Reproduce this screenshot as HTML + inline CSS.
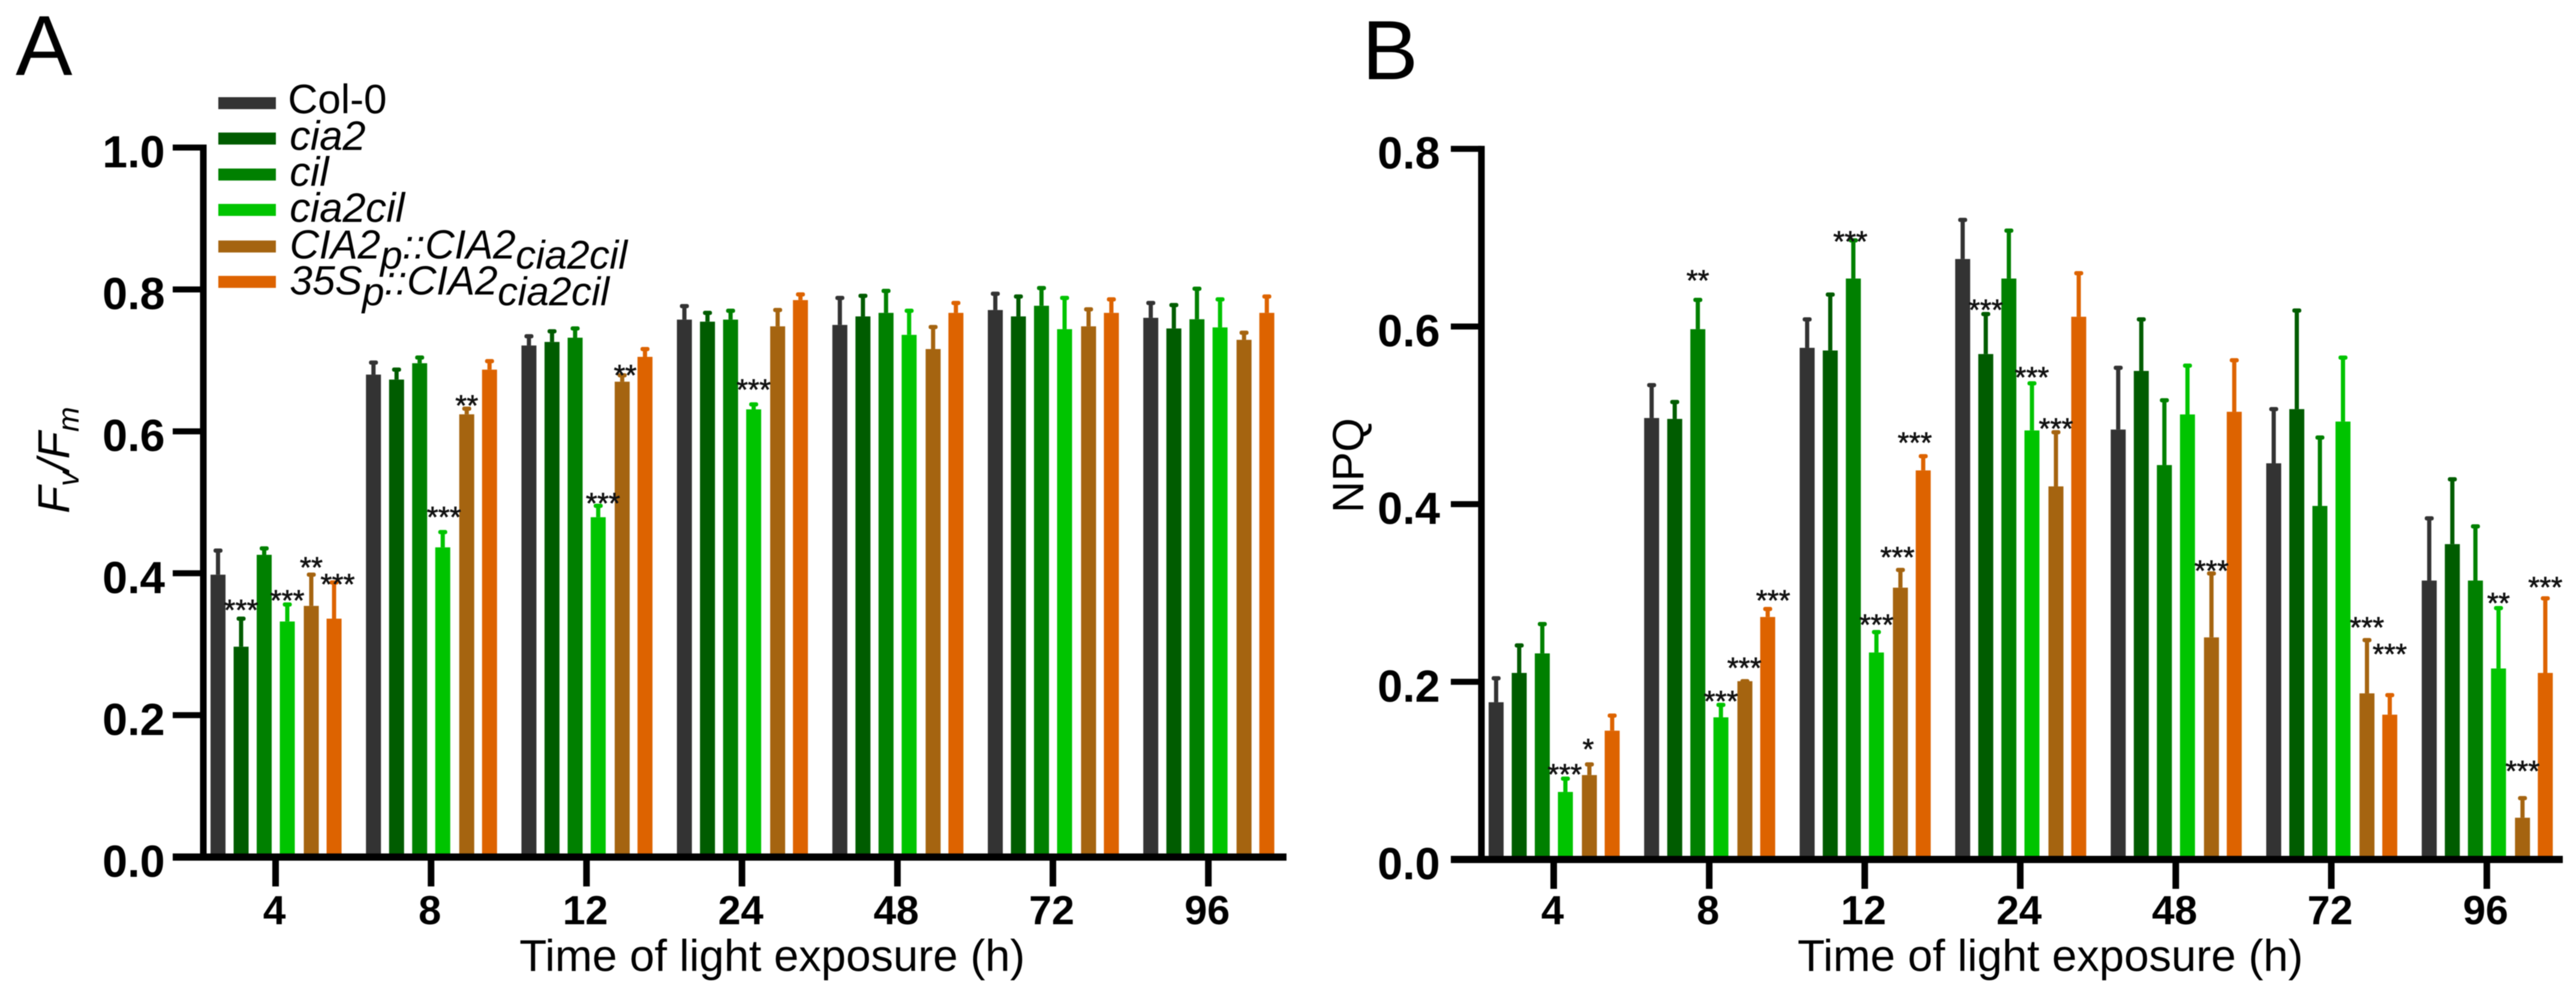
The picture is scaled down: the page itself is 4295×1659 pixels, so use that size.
<!DOCTYPE html>
<html>
<head>
<meta charset="utf-8">
<title>Fv/Fm and NPQ over time of light exposure</title>
<style>
html,body{margin:0;padding:0;background:#fff;}
body{width:4295px;height:1659px;overflow:hidden;}
svg{display:block;font-family:"Liberation Sans",Arial,sans-serif;fill:#000;filter:blur(0.8px);}
</style>
</head>
<body>
<svg id="figure" xmlns="http://www.w3.org/2000/svg" width="4295" height="1659" viewBox="0 0 4295 1659">
  <rect x="0" y="0" width="4295" height="1659" fill="#ffffff"/>
  <text x="26" y="125" font-size="142">A</text>
  <text x="2271" y="132" font-size="140">B</text>

  <text transform="translate(115,856) rotate(-90)" font-size="74" font-style="italic">F<tspan font-size="50" dy="16">v</tspan><tspan font-size="74" dy="-16">/F</tspan><tspan font-size="50" dy="16">m</tspan></text>
  <text transform="translate(2273,855) rotate(-90)" font-size="73">NPQ</text>
  <text x="866" y="1619" font-size="74" textLength="843" lengthAdjust="spacingAndGlyphs">Time of light exposure (h)</text>
  <text x="2997" y="1619" font-size="74" textLength="843" lengthAdjust="spacingAndGlyphs">Time of light exposure (h)</text>

  <g id="panel-a"></g>
  <g id="panel-b"></g>

  <g>
    <g>
      <rect x="364" y="162" width="96" height="20" fill="#333333"/>
      <text x="480" y="189" font-size="69">Col-0</text>
    </g>
    <g>
      <rect x="364" y="221" width="96" height="20" fill="#005c00"/>
      <text x="483" y="250" font-size="69" font-style="italic">cia2</text>
    </g>
    <g>
      <rect x="364" y="281" width="96" height="20" fill="#008000"/>
      <text x="483" y="310" font-size="69" font-style="italic">cil</text>
    </g>
    <g>
      <rect x="364" y="340" width="96" height="20" fill="#00c400"/>
      <text x="483" y="370" font-size="69" font-style="italic">cia2cil</text>
    </g>
    <g>
      <rect x="364" y="401" width="96" height="20" fill="#a56410"/>
      <text x="483" y="431" font-size="68" font-style="italic">CIA2<tspan font-size="66" dy="17">p</tspan><tspan font-size="68" dy="-17">::CIA2</tspan><tspan font-size="67" dy="17">cia2cil</tspan></text>
    </g>
    <g>
      <rect x="364" y="460" width="96" height="20" fill="#dd6300"/>
      <text x="483" y="491" font-size="68" font-style="italic">35S<tspan font-size="66" dy="18">p</tspan><tspan font-size="68" dy="-18">::CIA2</tspan><tspan font-size="67" dy="18">cia2cil</tspan></text>
    </g>
  </g>
</svg>
<script>
// ---- shared data ----
const categories = ['4', '8', '12', '24', '48', '72', '96'];
const seriesNames = ['col-0', 'cia2', 'cil', 'cia2cil', 'cia2p-complement', '35sp-overexpression'];
const seriesColors = ['#333333', '#005c00', '#008000', '#00c400', '#a56410', '#dd6300'];

// ---- panel A: Fv/Fm ----
const yTicksA = ['0.0', '0.2', '0.4', '0.6', '0.8', '1.0'];
const meanA_col0 = [0.398, 0.680, 0.721, 0.7575, 0.750, 0.771, 0.760];
const meanA_cia2 = [0.2965, 0.673, 0.726, 0.7546, 0.762, 0.762, 0.745];
const meanA_cil = [0.426, 0.696, 0.732, 0.7575, 0.767, 0.777, 0.758];
const meanA_cia2cil = [0.332, 0.4365, 0.479, 0.631, 0.736, 0.744, 0.7465];
const meanA_cia2p = [0.354, 0.624, 0.670, 0.748, 0.716, 0.748, 0.729];
const meanA_35s = [0.336, 0.687, 0.705, 0.785, 0.767, 0.767, 0.767];
const upperA_col0 = [0.432, 0.697, 0.734, 0.7765, 0.788, 0.794, 0.781];
const upperA_cia2 = [0.336, 0.687, 0.741, 0.767, 0.791, 0.790, 0.778];
const upperA_cil = [0.435, 0.704, 0.745, 0.770, 0.798, 0.802, 0.801];
const upperA_cia2cil = [0.356, 0.458, 0.495, 0.638, 0.770, 0.788, 0.786];
const upperA_cia2p = [0.398, 0.632, 0.679, 0.771, 0.747, 0.772, 0.739];
const upperA_35s = [0.387, 0.699, 0.716, 0.793, 0.781, 0.786, 0.790];
const sigGroupA = [0, 0, 0, 0, 1, 1, 2, 2, 3];
const sigSeriesA = [1, 3, 4, 5, 3, 4, 3, 4, 3];
const sigTextA = ['***', '***', '**', '***', '***', '**', '***', '**', '***'];

// ---- panel B: NPQ ----
const yTicksB = ['0.0', '0.2', '0.4', '0.6', '0.8'];
const meanB_col0 = [0.177, 0.497, 0.576, 0.676, 0.484, 0.446, 0.314];
const meanB_cia2 = [0.210, 0.496, 0.573, 0.569, 0.550, 0.507, 0.355];
const meanB_cil = [0.232, 0.597, 0.654, 0.654, 0.444, 0.398, 0.314];
const meanB_cia2cil = [0.076, 0.160, 0.233, 0.483, 0.501, 0.493, 0.215];
const meanB_cia2p = [0.095, 0.2007, 0.306, 0.420, 0.250, 0.187, 0.047];
const meanB_35s = [0.145, 0.273, 0.438, 0.611, 0.504, 0.163, 0.210];
const upperB_col0 = [0.204, 0.534, 0.608, 0.720, 0.5535, 0.507, 0.384];
const upperB_cia2 = [0.241, 0.515, 0.636, 0.614, 0.608, 0.618, 0.428];
const upperB_cil = [0.265, 0.630, 0.697, 0.708, 0.517, 0.475, 0.375];
const upperB_cia2cil = [0.091, 0.174, 0.256, 0.536, 0.556, 0.565, 0.283];
const upperB_cia2p = [0.107, 0.2007, 0.326, 0.481, 0.322, 0.247, 0.069];
const upperB_35s = [0.162, 0.282, 0.454, 0.660, 0.562, 0.185, 0.294];
const sigGroupB = [0, 0, 1, 1, 1, 1, 2, 2, 2, 2, 3, 3, 3, 4, 5, 5, 6, 6, 6];
const sigSeriesB = [3, 4, 2, 3, 4, 5, 2, 3, 4, 5, 1, 3, 4, 4, 4, 5, 3, 4, 5];
const sigTextB = ['***', '*', '**', '***', '***', '***', '***', '***', '***', '***', '***', '***', '***', '***', '***', '***', '**', '***', '***'];

// ---- layout (not data) ----
const barOffsets = [-96, -57.5, -19, 19.5, 59.5, 97.5];
const barWidth = 25;
const sigNudgeXA = [0, 0, 0, 6, 2, 0, 8, 5, 0];
const sigGapA = [25, 17.5, 23, 7.7, 35.6, 16, 15, 11, 35.5];
const sigNudgeXB = [-1, -2, 0, 0, -1, 9, -5, 0, -5, -14, 0, 0, 0, 0, 0, 0, 0, 0, 0];
const sigGapB = [18, 36, 43, 17, 33, 25, 9, 23, 32, 33, 18, 21, 16.5, 15, 32, 79, 19, 56, 29];

const panelA = {
  key: 'a', root: document.getElementById('panel-a'),
  x0: 459.5, xStep: 259.2, y0: 1429, yPerUnit: 1183,
  axisX: 339, axisLeft: 288, axisRight: 2145, tickBottom: 1478, labelRight: 275, maxY: 1.0,
  ticks: yTicksA,
  means: [meanA_col0, meanA_cia2, meanA_cil, meanA_cia2cil, meanA_cia2p, meanA_35s],
  uppers: [upperA_col0, upperA_cia2, upperA_cil, upperA_cia2cil, upperA_cia2p, upperA_35s],
  sigGroup: sigGroupA, sigSeries: sigSeriesA, sigText: sigTextA, nudge: sigNudgeXA, gap: sigGapA
};
const panelB = {
  key: 'b', root: document.getElementById('panel-b'),
  x0: 2590.5, xStep: 259.3, y0: 1433, yPerUnit: 1481,
  axisX: 2470, axisLeft: 2419, axisRight: 4273, tickBottom: 1482, labelRight: 2401, maxY: 0.8,
  ticks: yTicksB,
  means: [meanB_col0, meanB_cia2, meanB_cil, meanB_cia2cil, meanB_cia2p, meanB_35s],
  uppers: [upperB_col0, upperB_cia2, upperB_cil, upperB_cia2cil, upperB_cia2p, upperB_35s],
  sigGroup: sigGroupB, sigSeries: sigSeriesB, sigText: sigTextB, nudge: sigNudgeXB, gap: sigGapB
};

const SVG_NS = 'http://www.w3.org/2000/svg';
function make(tag, attrs, parent) {
  const node = document.createElementNS(SVG_NS, tag);
  for (const k in attrs) node.setAttribute(k, attrs[k]);
  parent.appendChild(node);
  return node;
}

function drawPanel(p) {
  const yScale = function (v) { return p.y0 - v * p.yPerUnit; };
  const xTick = function (g) { return p.x0 + g * p.xStep; };
  const xBar = function (g, s) { return xTick(g) + barOffsets[s]; };

  // bars + error bars
  p.means.forEach(function (vals, s) {
    vals.forEach(function (v, g) {
      const cx = xBar(g, s);
      const top = yScale(v);
      const capY = yScale(p.uppers[s][g]);
      const bar = make('rect', { x: cx - barWidth / 2, y: top, width: barWidth, height: p.y0 - top, fill: seriesColors[s] }, p.root);
      
      
      const stem = make('rect', { x: cx - 3.5, y: capY, width: 7, height: Math.max(top - capY, 0), fill: seriesColors[s] }, p.root);
      
      
      const cap = make('rect', { x: cx - 7.5, y: capY - 3.5, width: 15, height: 7, rx: 3, fill: seriesColors[s] }, p.root);
      
      
    });
  });

  // significance stars, placed relative to the error-bar tops
  p.sigText.forEach(function (t, i) {
    const g = p.sigGroup[i];
    const s = p.sigSeries[i];
    const star = make('text', {
      x: xBar(g, s) + p.nudge[i],
      y: yScale(p.uppers[s][g]) - p.gap[i] + 27.6,
      'font-size': 49, 'text-anchor': 'middle', fill: '#111111', stroke: '#111111', 'stroke-width': 0.8
    }, p.root);
    star.textContent = t;
    
    
  });

  // axes
  const yAxisTop = yScale(p.maxY) - 5;
  const yAxis = make('rect', { x: p.axisX - 5.5, y: yAxisTop, width: 11, height: p.y0 - yAxisTop + 5, fill: '#000' }, p.root);
  
  
  const xAxis = make('rect', { x: p.axisLeft, y: p.y0 - 6, width: p.axisRight - p.axisLeft, height: 12, fill: '#000' }, p.root);
  
  

  // y ticks
  p.ticks.forEach(function (label) {
    const v = parseFloat(label);
    const ty = yScale(v);
    const tick = make('rect', { x: p.axisLeft, y: ty - 5, width: p.axisX - p.axisLeft, height: 10, fill: '#000' }, p.root);
    
    
    const txt = make('text', { x: p.labelRight, y: ty + 33, 'font-size': 75, 'font-weight': 'bold', 'text-anchor': 'end' }, p.root);
    txt.textContent = label;
    
    
  });

  // x ticks
  categories.forEach(function (label, g) {
    const tx = xTick(g);
    const tick = make('rect', { x: tx - 5.5, y: p.y0, width: 11, height: p.tickBottom - p.y0, fill: '#000' }, p.root);
    
    
    const txt = make('text', { x: tx - 2, y: 1541, 'font-size': 68, 'font-weight': 'bold', 'text-anchor': 'middle' }, p.root);
    txt.textContent = label;
    
    
  });
}

drawPanel(panelA);
drawPanel(panelB);
</script>
</body>
</html>
